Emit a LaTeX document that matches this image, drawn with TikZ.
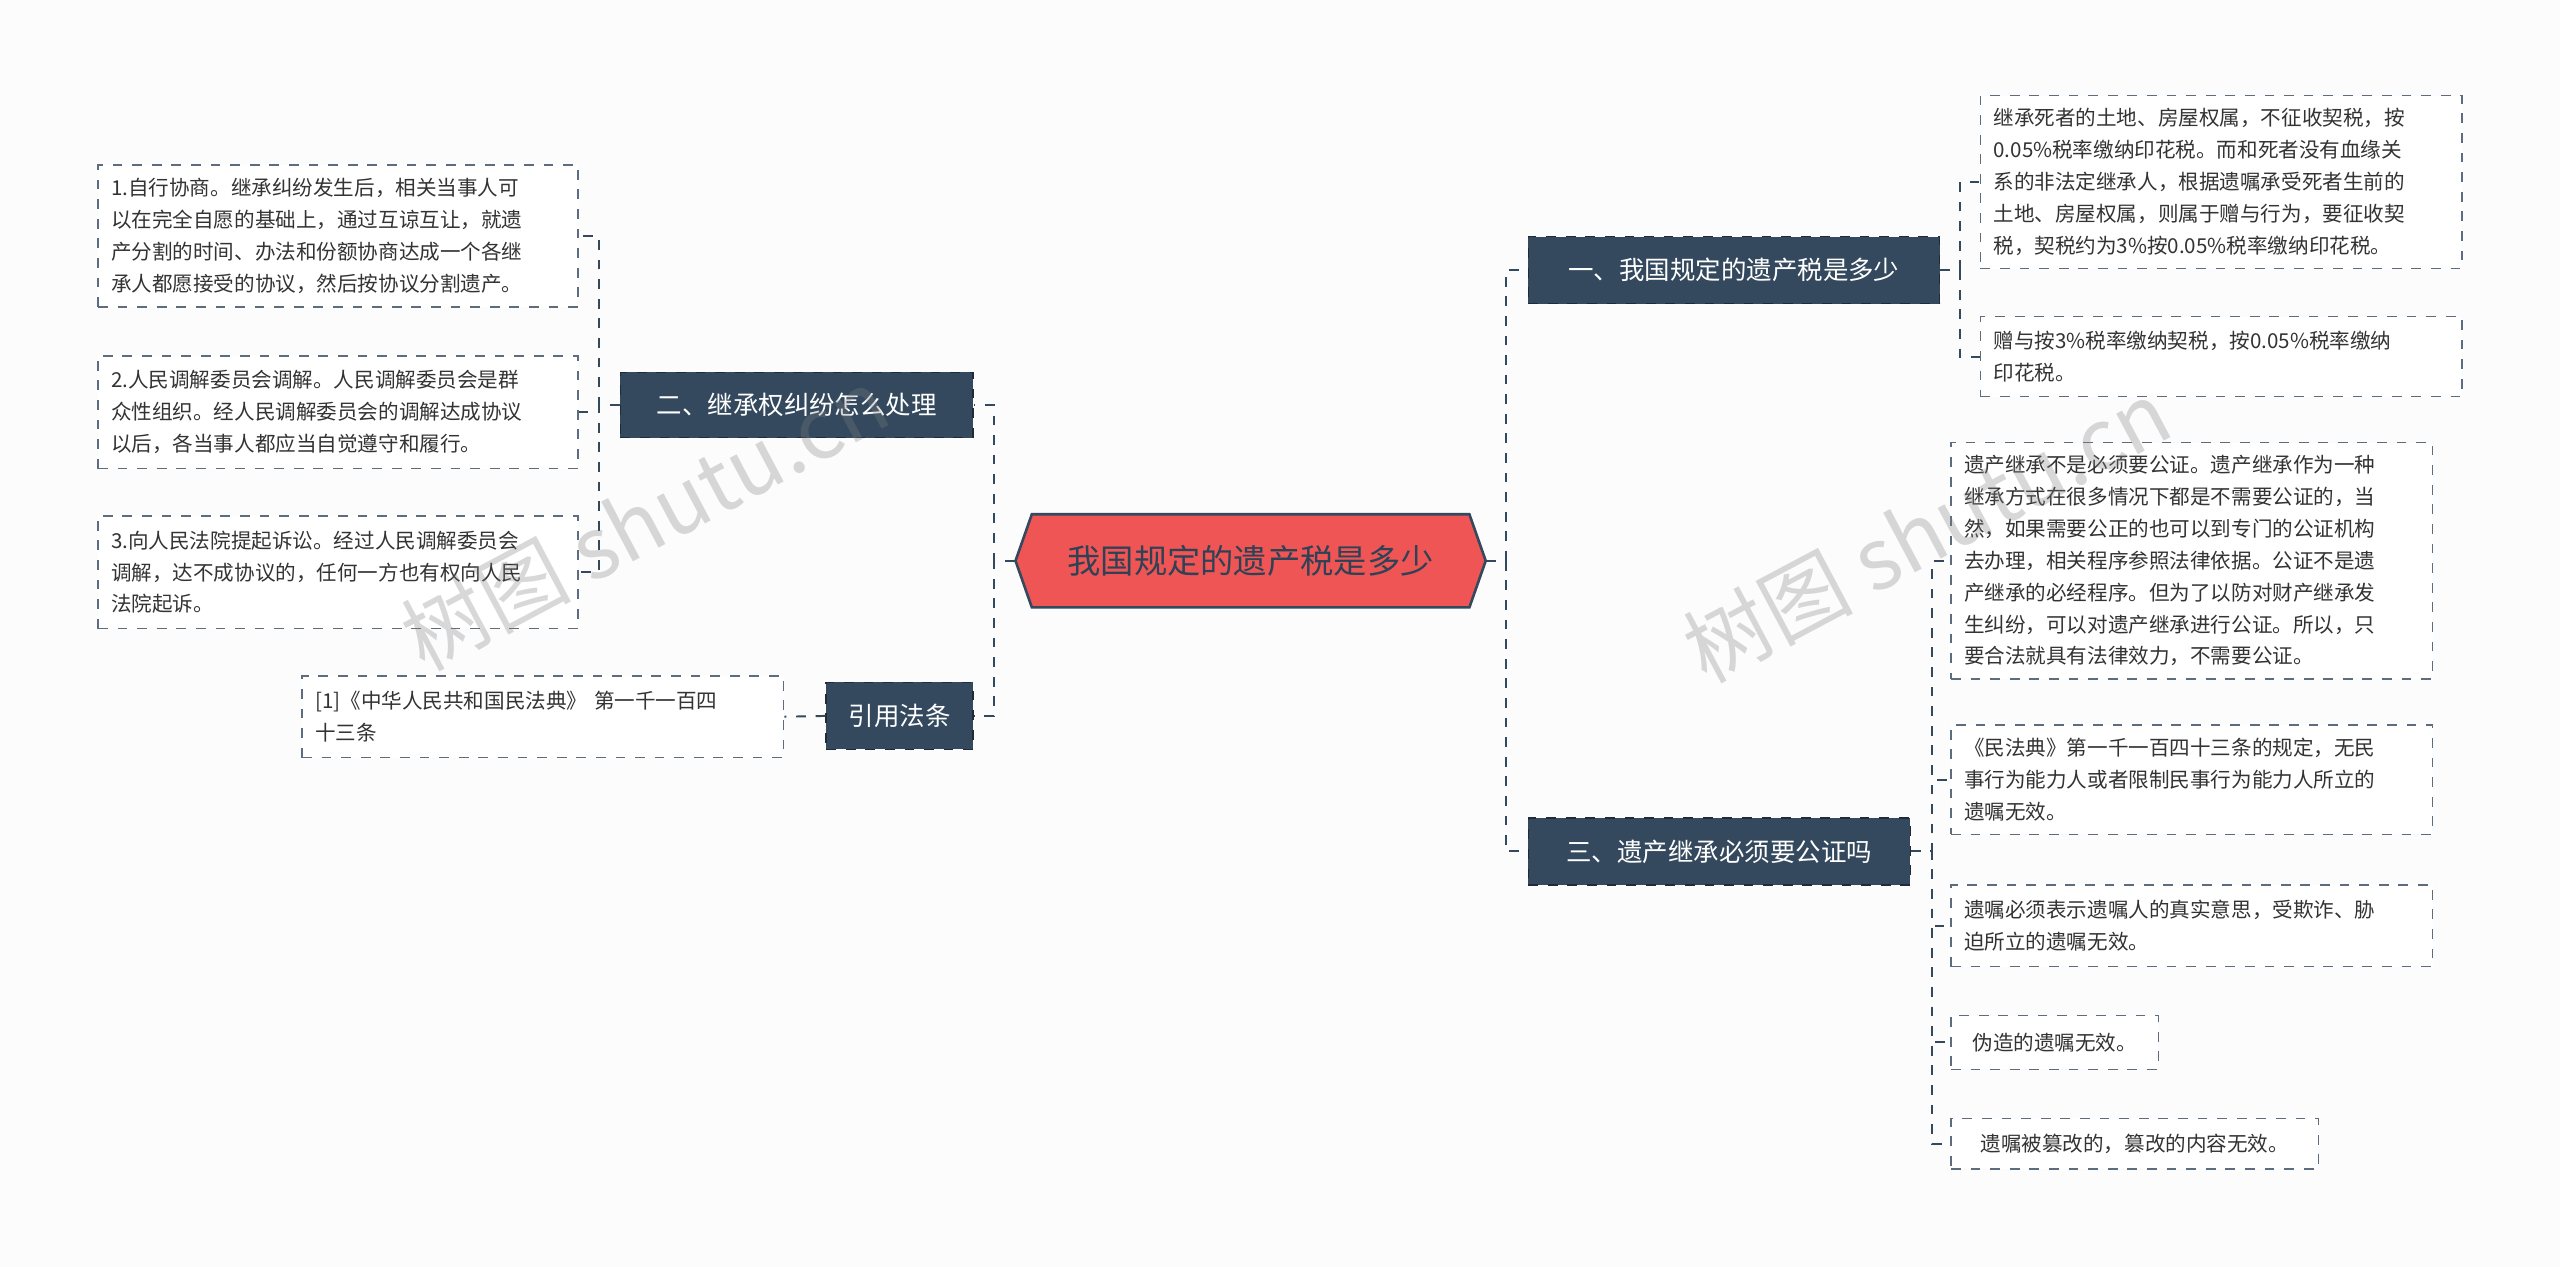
\documentclass[tikz,border=0pt]{standalone}
\usepackage{fontspec}
\setmainfont{Noto Sans CJK SC}
\definecolor{slate}{HTML}{34495E}
\definecolor{hexred}{HTML}{F05555}
\definecolor{leaftxt}{HTML}{333333}
\definecolor{bg}{HTML}{FCFCFC}
\begin{document}
\begin{tikzpicture}[x=0.5pt,y=-0.5pt,
 conn/.style={draw=slate,dashed,line width=0.6pt},
 branch/.style={fill=slate,draw=slate!60!black,dashed,text=white,font=\fontsize{7.8}{9}\selectfont,inner sep=0pt,anchor=center},
 leaf/.style={draw=slate!80,dashed,fill=white,text=leaftxt,align=left,inner sep=4pt,font=\fontsize{6.3}{9.75}\selectfont,anchor=center},
 wm/.style={gray,rotate=28,font=\fontsize{26}{30}\selectfont,opacity=0.3}]
\fill[bg] (0,0) rectangle (1568,776);
\useasboundingbox (0,0) rectangle (1568,776);
% center
\node[minimum width=144pt,minimum height=28.5pt,inner sep=0pt] (c) at (766,343.5) {};
\fill[hexred,draw=slate,line width=0.8pt] (622,343.5)--(632,315)--(900,315)--(910,343.5)--(900,372)--(632,372)--cycle;
\node[text=slate!90!black,font=\fontsize{10.2}{12}\selectfont] at (766,343.5) {我国规定的遗产税是多少};
% branches
\node[branch,minimum width=126pt,minimum height=20.5pt] (b1) at (1062,165.5) {一、我国规定的遗产税是多少};
\node[branch,minimum width=117pt,minimum height=20.5pt] (b3) at (1053,521.5) {三、遗产继承必须要公证吗};
\node[branch,minimum width=108pt,minimum height=20pt] (b2) at (488,248) {二、继承权纠纷怎么处理};
\node[branch,minimum width=45pt,minimum height=20.5pt] (b4) at (551,438.5) {引用法条};
% leaves
\node[leaf,minimum width=147.5pt,minimum height=51.5pt,text width=139.5pt] (r1a) at (1360.5,111.5) {继承死者的土地、房屋权属，不征收契税，按\\0.05\%税率缴纳印花税。而和死者没有血缘关\\系的非法定继承人，根据遗嘱承受死者生前的\\土地、房屋权属，则属于赠与行为，要征收契\\税，契税约为3\%按0.05\%税率缴纳印花税。};
\node[leaf,minimum width=147.5pt,minimum height=24.5pt,text width=139.5pt] (r1b) at (1360.5,218.5) {赠与按3\%税率缴纳契税，按0.05\%税率缴纳\\印花税。};
\node[leaf,minimum width=147.5pt,minimum height=69.5pt,text width=139.5pt] (r3a) at (1342.5,343.5) {遗产继承不是必须要公证。遗产继承作为一种\\继承方式在很多情况下都是不需要公证的，当\\然，如果需要公正的也可以到专门的公证机构\\去办理，相关程序参照法律依据。公证不是遗\\产继承的必经程序。但为了以防对财产继承发\\生纠纷，可以对遗产继承进行公证。所以，只\\要合法就具有法律效力，不需要公证。};
\node[leaf,minimum width=147.5pt,minimum height=33.5pt,text width=139.5pt] (r3b) at (1342.5,477.5) {《民法典》第一千一百四十三条的规定，无民\\事行为能力人或者限制民事行为能力人所立的\\遗嘱无效。};
\node[leaf,minimum width=147.5pt,minimum height=25pt,text width=139.5pt] (r3c) at (1342.5,567) {遗嘱必须表示遗嘱人的真实意思，受欺诈、胁\\迫所立的遗嘱无效。};
\node[leaf,minimum width=63.5pt,minimum height=16.5pt] (r3d) at (1258.5,638.5) {伪造的遗嘱无效。};
\node[leaf,minimum width=112.5pt,minimum height=15.5pt] (r3e) at (1307.5,700.5) {遗嘱被篡改的，篡改的内容无效。};
\node[leaf,minimum width=147pt,minimum height=43.5pt,text width=139pt] (l2a) at (207,144.5) {1.自行协商。继承纠纷发生后，相关当事人可\\以在完全自愿的基础上，通过互谅互让，就遗\\产分割的时间、办法和份额协商达成一个各继\\承人都愿接受的协议，然后按协议分割遗产。};
\node[leaf,minimum width=147pt,minimum height=34.5pt,text width=139pt] (l2b) at (207,252.5) {2.人民调解委员会调解。人民调解委员会是群\\众性组织。经人民调解委员会的调解达成协议\\以后，各当事人都应当自觉遵守和履行。};
\node[leaf,minimum width=147pt,minimum height=34.5pt,text width=139pt] (l2c) at (207,350.5) {3.向人民法院提起诉讼。经过人民调解委员会\\调解，达不成协议的，任何一方也有权向人民\\法院起诉。};
\node[leaf,minimum width=147.5pt,minimum height=25pt,text width=139.5pt] (ref) at (332.5,439) {[1]《中华人民共和国民法典》 第一千一百四\\十三条};
% connectors
\draw[conn] (c.east) -- ++(12,0) |- (b1.west);
\draw[conn] (c.east) -- ++(12,0) |- (b3.west);
\draw[conn] (c.west) -- ++(-13,0) |- (b2.east);
\draw[conn] (c.west) -- ++(-13,0) |- (b4.east);
\draw[conn] (b1.east) -- ++(12,0) |- (r1a.west);
\draw[conn] (b1.east) -- ++(12,0) |- (r1b.west);
\foreach \n in {r3a,r3b,r3c,r3d,r3e} \draw[conn] (b3.east) -- ++(13,0) |- (\n.west);
\foreach \n in {l2a,l2b,l2c} \draw[conn] (b2.west) -- ++(-13,0) |- (\n.east);
\draw[conn] (b4.west) -- (ref.east);
% watermarks
\node[wm] at (395,318) {树图 shutu.cn};
\node[wm] at (1180,325) {树图 shutu.cn};
\end{tikzpicture}
\end{document}
